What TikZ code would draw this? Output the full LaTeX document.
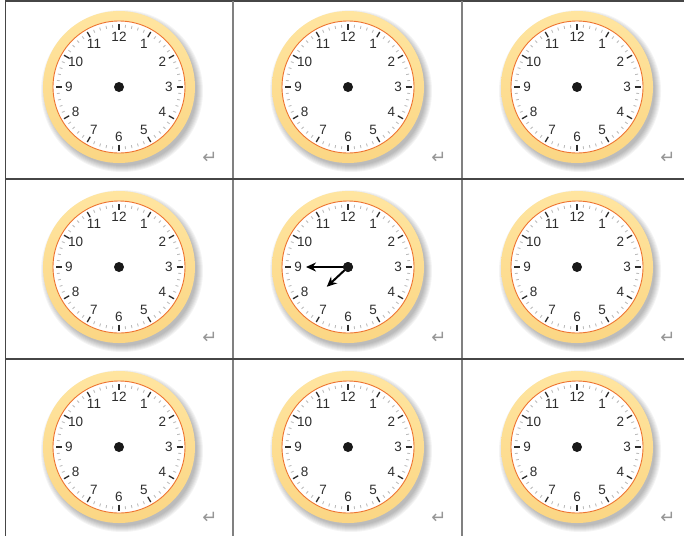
\documentclass[tikz,border=0pt]{standalone}
\usepackage{fontspec}
\setmainfont{Liberation Sans}
\newfontfamily\symfont{DejaVu Sans}
\usetikzlibrary{arrows.meta, positioning, calc}

\definecolor{ringfill}{RGB}{251,214,132}
\definecolor{ringlight}{RGB}{255,229,160}
\definecolor{rimline}{RGB}{238,116,48}
\definecolor{numgray}{RGB}{45,45,45}
\definecolor{minortick}{RGB}{185,185,185}
\definecolor{gridline}{RGB}{70,70,70}
\definecolor{retgray}{RGB}{150,150,150}

\begin{document}
\begin{tikzpicture}[
    x=1pt, y=-1pt,
    num/.style={font=\fontsize{13.5}{13.5}\selectfont, text=numgray, inner sep=0pt},
    hub/.style={circle, fill=black!90, minimum size=10pt, inner sep=0pt},
    retmark/.style={font=\symfont\fontsize{18}{18}\selectfont, text=retgray, inner sep=0pt},
    hand/.style={line width=2pt, black, -{Stealth[length=10pt, width=9pt]}},
    cellline/.style={gridline, line width=1.2pt}
]
    \useasboundingbox (0,0) rectangle (684,536);

    % grid of cells
    \draw[cellline, line width=2pt] (5.5,1) -- (684,1);
    \draw[cellline] (5.5,0) -- (5.5,536);
    \draw[cellline, gray] (233,1) -- (233,536);
    \draw[cellline, gray] (462,1) -- (462,536);
    \draw[cellline] (5.5,179) -- (684,179);
    \draw[cellline] (5.5,359) -- (684,359);

    % clock faces
    \foreach \col/\cx in {1/119, 2/348, 3/577} {
      \foreach \row/\cy in {1/87, 2/267, 3/447} {
        \begin{scope}[shift={(\cx,\cy)}]
          \foreach \s in {0,...,6}
            \fill[black, opacity=0.045] (3,4) circle (75+\s);
          \shade[top color=ringlight, bottom color=ringfill] (0,0) circle (76);
          \fill[white] (0,0) circle (66);
          \draw[rimline, line width=0.9pt] (0,0) circle (66);
          \foreach \m in {0,...,59}
            \draw[minortick, line width=0.8pt] (\m*6:59.5) -- (\m*6:62.5);
          \foreach \h in {0,...,11}
            \draw[numgray, line width=1.3pt] (\h*30-90:57.5) -- (\h*30-90:63.5);
          \foreach \h in {1,...,12}
            \node[num] (n\col\row-\h) at (\h*30-90:50) {\h};
          \node[hub] (c\col\row) at (0,0) {};
          \node[retmark] (r\col\row) at (91,71) {↵};
        \end{scope}
      }
    }

    % hands showing 7:45
    \coordinate (mintip) at ($(c22)+(180:42)$);
    \coordinate (hourtip) at ($(c22)+(137:29)$);
    \draw[hand] (c22.center) -- (mintip);
    \draw[hand] (c22.center) -- (hourtip);
    \node[hub] at (c22) {};
\end{tikzpicture}
\end{document}
